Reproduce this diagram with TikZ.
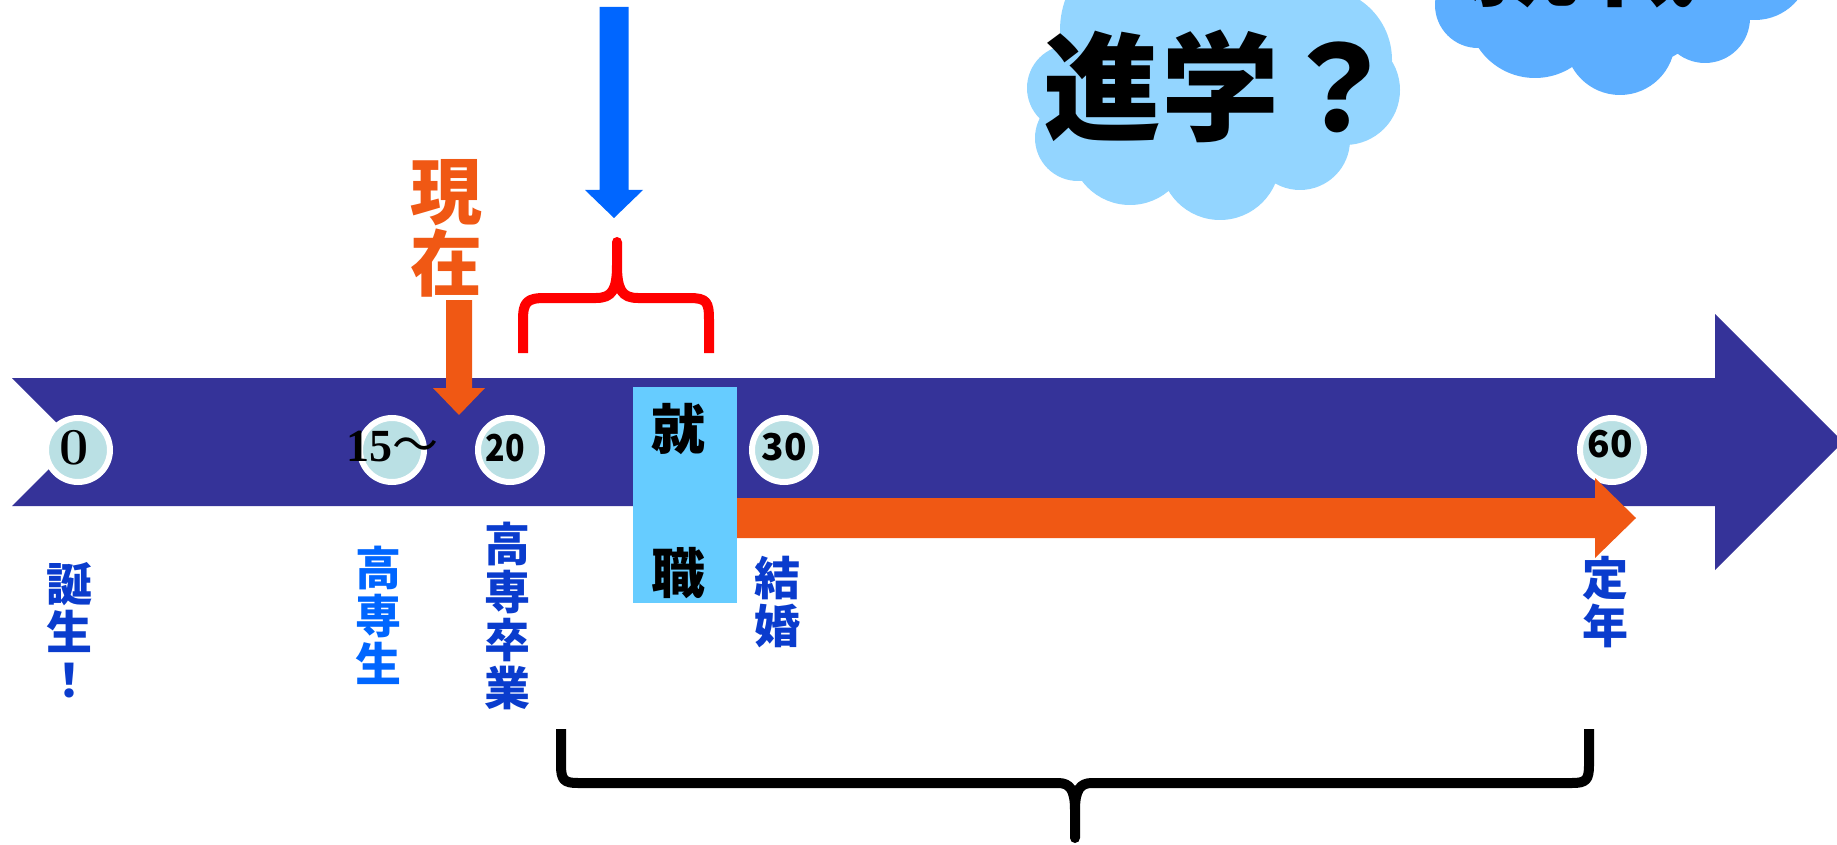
\documentclass[tikz,border=0pt]{standalone}
\usepackage{fontspec}
\usepackage{graphicx}
\newfontfamily\cjk{Noto Sans CJK JP}
\newfontfamily\tnr{Liberation Serif}
\usetikzlibrary{calc}
\definecolor{navyA}{RGB}{53,51,153}
\definecolor{tealA}{RGB}{186,224,228}
\definecolor{orangeA}{RGB}{240,88,20}
\definecolor{blueArr}{RGB}{0,102,255}
\definecolor{jobblue}{RGB}{102,204,255}
\definecolor{cloudA}{RGB}{147,213,255}
\definecolor{cloudB}{RGB}{92,174,255}
\definecolor{labblue}{RGB}{10,60,205}
\definecolor{labbright}{RGB}{0,102,255}
\begin{document}
\begin{tikzpicture}[x=1pt,y=-1pt,
  agecirc/.style={circle,fill=tealA,draw=white,line width=6pt,minimum size=64pt,inner sep=0pt},
  agetxt/.style={inner sep=0pt,font=\cjk\bfseries\fontsize{37}{37}\selectfont},
  vlabel/.style={inner sep=0pt,align=center,text=labblue,font=\cjk\bfseries\fontsize{46}{48}\selectfont},
  bracestroke/.style={line width=10pt,line join=round,line cap=butt}
]
\useasboundingbox (0,0) rectangle (1837,845);
\clip (0,0) rectangle (1837,845);

% clouds
\fill[cloudA] (1150,30) circle (90pt) (1260,20) circle (70pt) (1070,88) circle (43pt)
  (1078,138) circle (43pt) (1130,145) circle (60pt) (1220,160) circle (60pt)
  (1300,140) circle (50pt) (1345,90) circle (55pt) (1320,60) circle (72pt)
  (1215,100) circle (100pt);
\node[font=\cjk\bfseries\fontsize{118}{118}\selectfont,inner sep=0pt] (q1) at (1220,86) {進学？};

\fill[cloudB] (1478,5) circle (43pt) (1535,10) circle (68pt) (1620,40) circle (55pt)
  (1705,18) circle (45pt) (1755,-35) circle (55pt) (1620,-40) circle (110pt);
\node[font=\cjk\bfseries\fontsize{118}{118}\selectfont,inner sep=0pt] (q2) at (1639,-48) {就職？};

% main timeline arrow
\fill[navyA] (12,378) -- (1715,378) -- (1715,314) -- (1843,442) -- (1715,570)
  -- (1715,506) -- (12,506) -- (76,442) -- cycle;

% age circles
\node[agecirc] (c0) at (78,450) {};
\node[inner sep=0pt,font=\bfseries\fontsize{52}{52}\selectfont] (t0) at (74,448) {0};
\node[agecirc] (c15) at (392,450) {};
\node[inner sep=0pt,font=\tnr\bfseries\fontsize{46}{46}\selectfont] (t15) at (392,447) {15{\cjk\mdseries ～}};
\node[agecirc] (c20) at (510,450) {};
\node[agetxt] (t20) at (505,448) {\scalebox{0.87}[1]{20}};
\node[agecirc] (c30) at (784,450) {};
\node[agetxt] (t30) at (784,447.5) {30};
\node[agecirc] (c60) at (1612,450) {};
\node[agetxt] (t60) at (1610,444) {60};

% labels
\node[vlabel] (l0) at (69,630) {誕\\生\\！};
\node[vlabel,text=labbright] (l15) at (378,615) {高\\専\\生};
\node[vlabel] (l20) at (507,616) {高\\専\\卒\\業};
\node[vlabel] (l30) at (777,602) {結\\婚};
\node[vlabel] (l60) at (1605,602) {定\\年};

% job box
\node[fill=jobblue,minimum width=104pt,minimum height=216pt,inner sep=0pt] (job) at (685,495) {};
\node[font=\cjk\bfseries\fontsize{54}{54}\selectfont,inner sep=0pt] (job1) at (678,429) {就};
\node[font=\cjk\bfseries\fontsize{54}{54}\selectfont,inner sep=0pt] (job2) at (678,573) {職};

% long orange arrow (work period)
\coordinate (oS) at (737,518);
\coordinate (oE) at (1636,518);
\fill[orangeA] ($(oS)+(0,-20)$) -- ($(oE)+(-41,-20)$) -- ($(oE)+(-41,-40)$) -- (oE)
  -- ($(oE)+(-41,40)$) -- ($(oE)+(-41,20)$) -- ($(oS)+(0,20)$) -- cycle;

% "now" label and arrow
\node[inner sep=0pt,align=center,text=orangeA,font=\cjk\bfseries\fontsize{72}{72}\selectfont] (now) at (446,228) {現\\在};
\coordinate (nS) at (459,300);
\coordinate (nE) at (459,415);
\fill[orangeA] ($(nS)+(-13,0)$) -- ($(nE)+(-13,-27)$) -- ($(nE)+(-26,-27)$) -- (nE)
  -- ($(nE)+(26,-27)$) -- ($(nE)+(13,-27)$) -- ($(nS)+(13,0)$) -- cycle;

% blue arrow
\coordinate (bS) at (614,7);
\coordinate (bE) at (614,218);
\fill[blueArr] ($(bS)+(-14.5,0)$) -- ($(bE)+(-14.5,-28)$) -- ($(bE)+(-29,-28)$) -- (bE)
  -- ($(bE)+(29,-28)$) -- ($(bE)+(14.5,-28)$) -- ($(bS)+(14.5,0)$) -- cycle;

% red brace
\draw[bracestroke,red] (523,353) -- (523,320) .. controls (523,302) and (527,298) .. (545,298)
  -- (596,298) .. controls (612,298) and (617,290) .. (617,265) -- (617,242)
  -- (617,265) .. controls (617,290) and (622,298) .. (638,298)
  -- (689,298) .. controls (707,298) and (709,302) .. (709,320) -- (709,353);

% black brace
\draw[bracestroke,black] (561,729) -- (561,765) .. controls (561,780) and (564,783) .. (578,783)
  -- (1058,783) .. controls (1070,783) and (1075,790) .. (1075,810) -- (1075,838)
  -- (1075,810) .. controls (1075,790) and (1080,783) .. (1092,783)
  -- (1572,783) .. controls (1586,783) and (1589,780) .. (1589,765) -- (1589,729);
\end{tikzpicture}
\end{document}
